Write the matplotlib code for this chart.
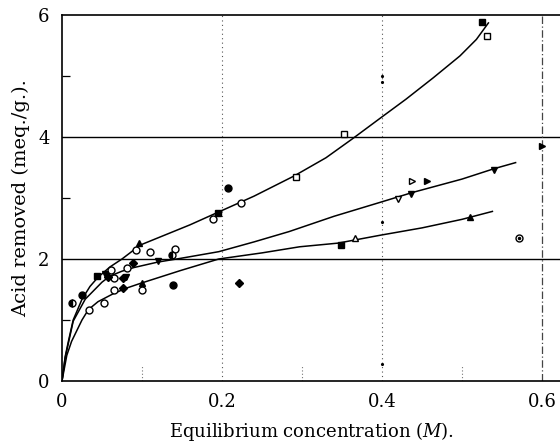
"""Acid removed vs equilibrium concentration, three fitted isotherms with data points."""

import matplotlib
matplotlib.use("Agg")
import matplotlib.pyplot as plt


# fitted curves
CURVE_A_X = [0, 0.004, 0.008, 0.014, 0.025, 0.035, 0.045, 0.06, 0.075, 0.09, 0.1, 0.13, 0.16,
             0.194, 0.24, 0.29, 0.33, 0.363, 0.4, 0.43, 0.464, 0.4975, 0.518, 0.533]
CURVE_A_Y = [0, 0.4, 0.65, 1.0, 1.34, 1.55, 1.7, 1.87, 2.0, 2.15, 2.24, 2.4, 2.56,
             2.76, 3.03, 3.36, 3.66, 3.97, 4.33, 4.62, 4.97, 5.33, 5.6, 5.87]

CURVE_B_X = [0, 0.004, 0.008, 0.014, 0.029, 0.035, 0.05, 0.06, 0.075, 0.09, 0.12, 0.148,
             0.196, 0.24, 0.284, 0.34, 0.398, 0.438, 0.5, 0.54, 0.567]
CURVE_B_Y = [0, 0.38, 0.62, 0.98, 1.34, 1.42, 1.62, 1.72, 1.8, 1.86, 1.95, 2.01,
             2.12, 2.28, 2.45, 2.7, 2.93, 3.09, 3.31, 3.48, 3.58]

CURVE_C_X = [0, 0.006, 0.012, 0.025, 0.033, 0.045, 0.064, 0.08, 0.098, 0.148, 0.196,
             0.25, 0.297, 0.345, 0.398, 0.45, 0.5, 0.538]
CURVE_C_Y = [0, 0.42, 0.65, 1.0, 1.17, 1.3, 1.43, 1.52, 1.6, 1.81, 2.0,
             2.1, 2.2, 2.26, 2.39, 2.51, 2.65, 2.78]

# data points, grouped by marker style
FILLED_CIRCLE_X = [0.025, 0.139, 0.2075]
FILLED_CIRCLE_Y = [1.41, 1.58, 3.16]

OPEN_CIRCLE_X = [0.034, 0.052, 0.061, 0.065, 0.081, 0.093, 0.11, 0.141, 0.065, 0.1, 0.189, 0.224]
OPEN_CIRCLE_Y = [1.16, 1.28, 1.82, 1.69, 1.85, 2.15, 2.11, 2.16, 1.49, 1.49, 2.66, 2.92]

FILLED_SQUARE_X = [0.044, 0.195, 0.525, 0.349]
FILLED_SQUARE_Y = [1.72, 2.75, 5.89, 2.23]

OPEN_SQUARE_X = [0.2925, 0.3525, 0.531]
OPEN_SQUARE_Y = [3.34, 4.05, 5.66]

FILLED_TRI_UP_X = [0.1, 0.51, 0.096]
FILLED_TRI_UP_Y = [1.61, 2.69, 2.26]

OPEN_TRI_UP_X = [0.366]
OPEN_TRI_UP_Y = [2.34]

FILLED_TRI_DOWN_X = [0.12, 0.436, 0.54, 0.054, 0.08]
FILLED_TRI_DOWN_Y = [1.97, 3.07, 3.46, 1.75, 1.7]

OPEN_TRI_DOWN_X = [0.42]
OPEN_TRI_DOWN_Y = [2.98]

FILLED_TRI_RIGHT_X = [0.456, 0.6]
FILLED_TRI_RIGHT_Y = [3.28, 3.85]

OPEN_TRI_RIGHT_X = [0.4375]
OPEN_TRI_RIGHT_Y = [3.28]

FILLED_DIAMOND_X = [0.221, 0.089, 0.076, 0.058, 0.076]
FILLED_DIAMOND_Y = [1.61, 1.93, 1.52, 1.7, 1.69]

HALF_X = [0.0125, 0.137]
HALF_Y = [1.28, 2.07]

DOTTED_CIRCLE_X = [0.571]
DOTTED_CIRCLE_Y = [2.34]

DOT_X = [0.4, 0.4, 0.4, 0.4]
DOT_Y = [5.0, 4.9, 2.6, 0.28]


def main() -> None:
    plt.rcParams["font.family"] = "DejaVu Serif"
    plt.rcParams["mathtext.fontset"] = "dejavuserif"

    fig = plt.figure(figsize=(5.6, 4.48), dpi=100)
    ax = fig.add_axes([0.1107, 0.1496, 0.8893, 0.8169])

    # reference lines
    for y in (2, 4):
        ax.axhline(y, color="black", linewidth=1.0, zorder=1)
    for x in (0.2, 0.4):
        ax.axvline(x, color="#555555", linewidth=0.8, linestyle=(0, (1, 3)), zorder=1)
    ax.axvline(0.6, color="#444444", linewidth=0.9, linestyle=(0, (6, 2, 1, 2)), zorder=1)
    for x in (0.1, 0.3, 0.5):
        ax.axvline(x, ymax=0.04, color="#777777", linewidth=0.8, linestyle=(0, (1, 2)), zorder=1)

    for cx, cy in ((CURVE_A_X, CURVE_A_Y), (CURVE_B_X, CURVE_B_Y), (CURVE_C_X, CURVE_C_Y)):
        ax.plot(cx, cy, color="black", linewidth=1.1, zorder=2)

    ms = 5
    kw = dict(linestyle="none", markersize=ms, markeredgecolor="black", markeredgewidth=1.0, zorder=3)
    ax.plot(FILLED_CIRCLE_X, FILLED_CIRCLE_Y, marker="o", markerfacecolor="black", **kw)
    ax.plot(OPEN_CIRCLE_X, OPEN_CIRCLE_Y, marker="o", markerfacecolor="white", **kw)
    ax.plot(FILLED_SQUARE_X, FILLED_SQUARE_Y, marker="s", markerfacecolor="black", **kw)
    ax.plot(OPEN_SQUARE_X, OPEN_SQUARE_Y, marker="s", markerfacecolor="white", **kw)
    ax.plot(FILLED_TRI_UP_X, FILLED_TRI_UP_Y, marker="^", markerfacecolor="black", **kw)
    ax.plot(OPEN_TRI_UP_X, OPEN_TRI_UP_Y, marker="^", markerfacecolor="white", **kw)
    ax.plot(FILLED_TRI_DOWN_X, FILLED_TRI_DOWN_Y, marker="v", markerfacecolor="black", **kw)
    ax.plot(OPEN_TRI_DOWN_X, OPEN_TRI_DOWN_Y, marker="v", markerfacecolor="white", **kw)
    ax.plot(FILLED_TRI_RIGHT_X, FILLED_TRI_RIGHT_Y, marker=">", markerfacecolor="black", **kw)
    ax.plot(OPEN_TRI_RIGHT_X, OPEN_TRI_RIGHT_Y, marker=">", markerfacecolor="white", **kw)
    ax.plot(FILLED_DIAMOND_X, FILLED_DIAMOND_Y, marker="D", markerfacecolor="black",
            **{**kw, "markersize": 4.5})
    ax.plot(HALF_X, HALF_Y, marker="o", fillstyle="left", markerfacecolor="black",
            markerfacecoloralt="white", **kw)
    ax.plot(DOTTED_CIRCLE_X, DOTTED_CIRCLE_Y, marker="o", markerfacecolor="white", **kw)
    ax.plot(DOTTED_CIRCLE_X, DOTTED_CIRCLE_Y, marker=".", color="black", linestyle="none",
            markersize=3, zorder=4)
    ax.plot(DOT_X, DOT_Y, marker=".", color="black", linestyle="none", markersize=2.5, zorder=3)

    ax.set_xlim(0, 0.6225)
    ax.set_ylim(0, 6)
    ax.set_xticks([0, 0.2, 0.4, 0.6])
    ax.set_xticklabels(["0", "0.2", "0.4", "0.6"])
    ax.set_yticks([0, 2, 4, 6])
    ax.set_yticks([1, 3, 5], minor=True)
    ax.tick_params(axis="both", which="major", length=0, labelsize=13, pad=9)
    ax.tick_params(axis="y", which="minor", direction="in", length=6, width=0.9)
    ax.tick_params(axis="x", which="minor", length=0)

    for side in ("left", "bottom", "top"):
        ax.spines[side].set_linewidth(1.2)
    ax.spines["right"].set_visible(False)

    ax.set_xlabel(r"Equilibrium concentration ($M$).", fontsize=13, labelpad=6)
    ax.set_ylabel("Acid removed (meq./g.).", fontsize=14, labelpad=6)

    fig.savefig("out.png", dpi=100)


if __name__ == "__main__":
    main()
